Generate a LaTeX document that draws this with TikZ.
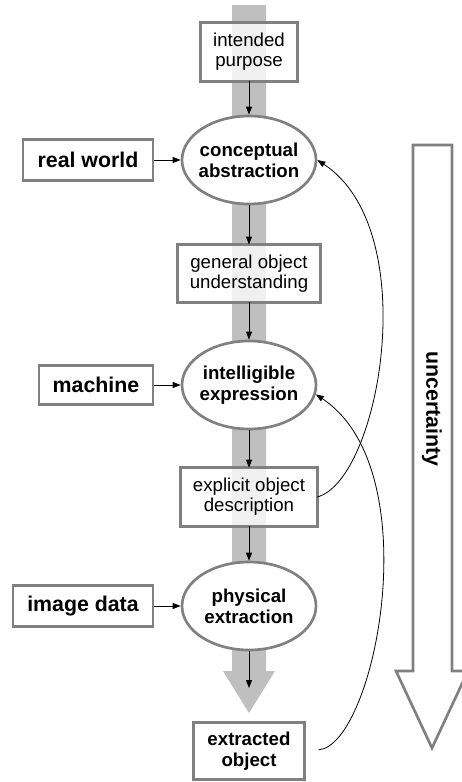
\documentclass[tikz,border=0pt]{standalone}
\usepackage{fontspec}
\setmainfont{Liberation Sans}
\usetikzlibrary{arrows.meta,shapes.geometric}
\pgfdeclarelayer{bottom}
\pgfdeclarelayer{back}
\pgfsetlayers{bottom,back,main}
\begin{document}
\begin{tikzpicture}[x=0.75pt,y=-0.75pt,
  frame/.style={draw=gray, line width=2pt, inner sep=0pt, align=center},
  midbox/.style={inner sep=0pt, align=center, font=\fontsize{14}{15}\selectfont},
  oval/.style={frame, ellipse, fill=white, inner xsep=-4pt,
    minimum width=100.5pt, minimum height=66pt,
    font=\bfseries\fontsize{14}{16}\selectfont},
  source/.style={frame, fill=white, font=\bfseries\fontsize{16}{18}\selectfont},
  result/.style={frame, fill=white, font=\bfseries\fontsize{14}{16}\selectfont},
  boxline/.style={draw=gray, line width=2pt},
  flow/.style={-{Triangle[length=6pt,width=4.5pt]}, line width=0.75pt},
  feedback/.style={-{Triangle[length=6pt,width=4.5pt]}, line width=0.6pt},
  bigarrow/.style={draw=gray, line width=2pt, fill=white, line join=miter}]

\useasboundingbox (0,0) rectangle (461,782);

% grey process band with its arrow head
\begin{pgfonlayer}{bottom}
\fill[gray!50] (232,5) -- (266,5) -- (266,671) -- (275,671) -- (249,713)
  -- (223,671) -- (232,671) -- cycle;
\end{pgfonlayer}

% uncertainty arrow
\draw[bigarrow] (413,145) -- (452,145) -- (452,671) -- (468,671) -- (432,748)
  -- (396,671) -- (413,671) -- cycle;
\node[rotate=-90, font=\bfseries\fontsize{16}{18}\selectfont] (unc) at (432,409) {uncertainty};

% main column
\node[midbox, minimum width=72.75pt, minimum height=43.5pt] (ip) at (249,52) {intended\\purpose};
\node[oval] (ca) at (249,160) {conceptual\\abstraction};
\node[midbox, minimum width=107pt, minimum height=43pt] (gou) at (249,273.5) {general object\\understanding};
\node[oval] (ie) at (249,385) {intelligible\\expression};
\node[midbox, minimum width=102pt, minimum height=43.5pt] (eod) at (249,497) {explicit object\\description};
\node[oval] (pe) at (249,606) {physical\\extraction};
\node[result, minimum width=83pt, minimum height=43pt] (eo) at (249,751) {extracted\\object};
\coordinate (pend) at (249,688);

% box faces: white, with the band showing faintly through
\begin{pgfonlayer}{back}
\foreach \b in {ip,gou,eod} {
  \fill[white] (\b.south west) rectangle (\b.north east);
  \fill[gray!12] (232,0 |- \b.north) rectangle (266,0 |- \b.south);
}
\end{pgfonlayer}
\foreach \b in {ip,gou,eod}
  \draw[boxline] (\b.south west) rectangle (\b.north east);

% inputs on the left
\node[source, minimum width=97.5pt, minimum height=30.75pt] (rw) at (88,160) {real world};
\node[source, minimum width=85.5pt, minimum height=29pt] (ma) at (96,385) {machine};
\node[source, minimum width=105pt, minimum height=30.75pt] (id) at (83,606) {image data};

% column arrows
\draw[flow] (ip) -- (ca);
\draw[flow] (ca) -- (gou);
\draw[flow] (gou) -- (ie);
\draw[flow] (ie) -- (eod);
\draw[flow] (eod) -- (pe);
\draw[flow] (pe) -- (pend);

% input arrows
\draw[flow] (rw) -- (ca);
\draw[flow] (ma) -- (ie);
\draw[flow] (id) -- (pe);

% feedback curves
\draw[feedback] (eod.east) .. controls (380,480) and (424,230) .. (ca.east);
\draw[feedback, shorten <=9.75pt] (eo.east) .. controls (375,745) and (430,470) .. (ie.-8);

\end{tikzpicture}
\end{document}
